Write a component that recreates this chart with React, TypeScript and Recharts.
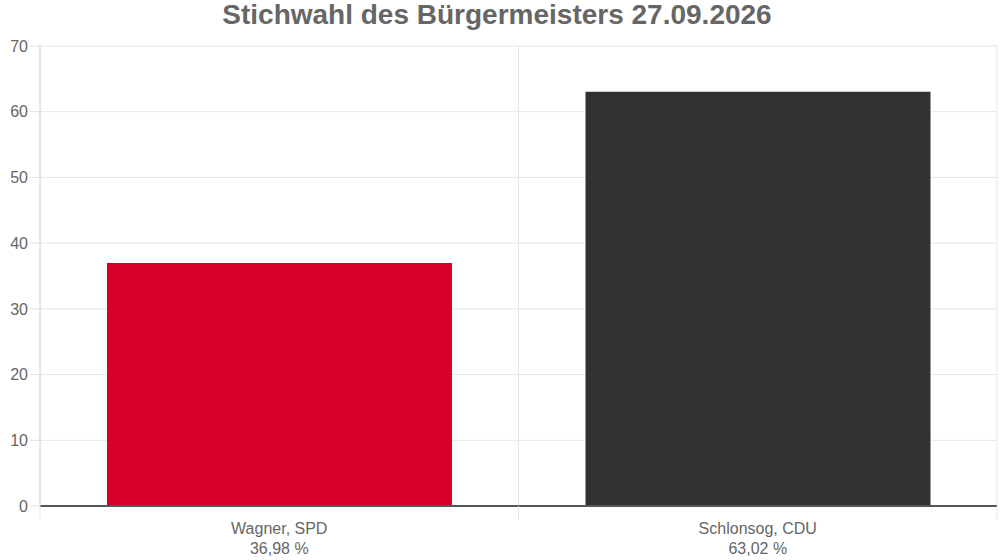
import { BarChart, Bar, XAxis, YAxis, CartesianGrid, Cell } from 'recharts';

const candidates = ['Wagner, SPD', 'Schlonsog, CDU'];
const shares = [36.98, 63.02];
const barColors = ['#d60028', '#32312f'];
const yTicks = [0, 10, 20, 30, 40, 50, 60, 70];
const gridTicks = [0, 1, 2];

const data = candidates.map((name, i) => ({ name, value: shares[i], idx: i + 0.5 }));

const fmt = (v: number) => v.toFixed(2).replace('.', ',') + ' %';

const FONT = '"Liberation Sans", Arial, sans-serif';

function CandidateTick({ x, y, payload, index }: any) {
  return (
    <g transform={`translate(${x},${y})`}>
      <text textAnchor="middle" fill="#666" fontSize={16} fontFamily={FONT}>
        <tspan x={0} dy={6}>{payload.value}</tspan>
        <tspan x={0} dy={20}>{fmt(shares[index])}</tspan>
      </text>
    </g>
  );
}

export default function App() {
  return (
    <div style={{ position: 'absolute', left: 0, top: 0, width: 1000, height: 560, background: '#fff', fontFamily: FONT }}>
      <div
        style={{
          position: 'absolute',
          top: 0,
          left: 0,
          width: 994,
          textAlign: 'center',
          fontSize: 28,
          lineHeight: '30px',
          fontWeight: 'bold',
          color: '#666',
        }}
      >
        Stichwahl des Bürgermeisters 27.09.2026
      </div>
      <BarChart
        width={1000}
        height={560}
        data={data}
        margin={{ top: 46, right: 3, bottom: 0, left: 0 }}
        barCategoryGap="14%"
      >
        <CartesianGrid stroke="#e6e6e6" xAxisId="a-grid" />
        {/* numeric helper axis: boundary grid lines + dark zero line */}
        <XAxis
          xAxisId="a-grid"
          type="number"
          dataKey="idx"
          domain={[0, 2]}
          ticks={gridTicks}
          tickSize={14}
          tickLine={{ stroke: '#e6e6e6' }}
          axisLine={{ stroke: '#555', strokeWidth: 2 }}
          tickFormatter={() => ''}
          height={14}
        />
        <XAxis
          dataKey="name"
          xAxisId="b-cat"
          axisLine={false}
          tickLine={false}
          tick={<CandidateTick />}
          interval={0}
          height={40}
        />
        <YAxis
          domain={[0, 70]}
          ticks={yTicks}
          width={40}
          tickSize={10}
          tickMargin={2}
          tickLine={{ stroke: '#e0e0e0' }}
          axisLine={{ stroke: '#d8d8d8' }}
          tick={{ fill: '#666', fontSize: 16, fontFamily: FONT }}
        />
        <Bar dataKey="value" xAxisId="b-cat" isAnimationActive={false}>
          {data.map((d, i) => (
            <Cell key={d.name} fill={barColors[i]} />
          ))}
        </Bar>
      </BarChart>
    </div>
  );
}
